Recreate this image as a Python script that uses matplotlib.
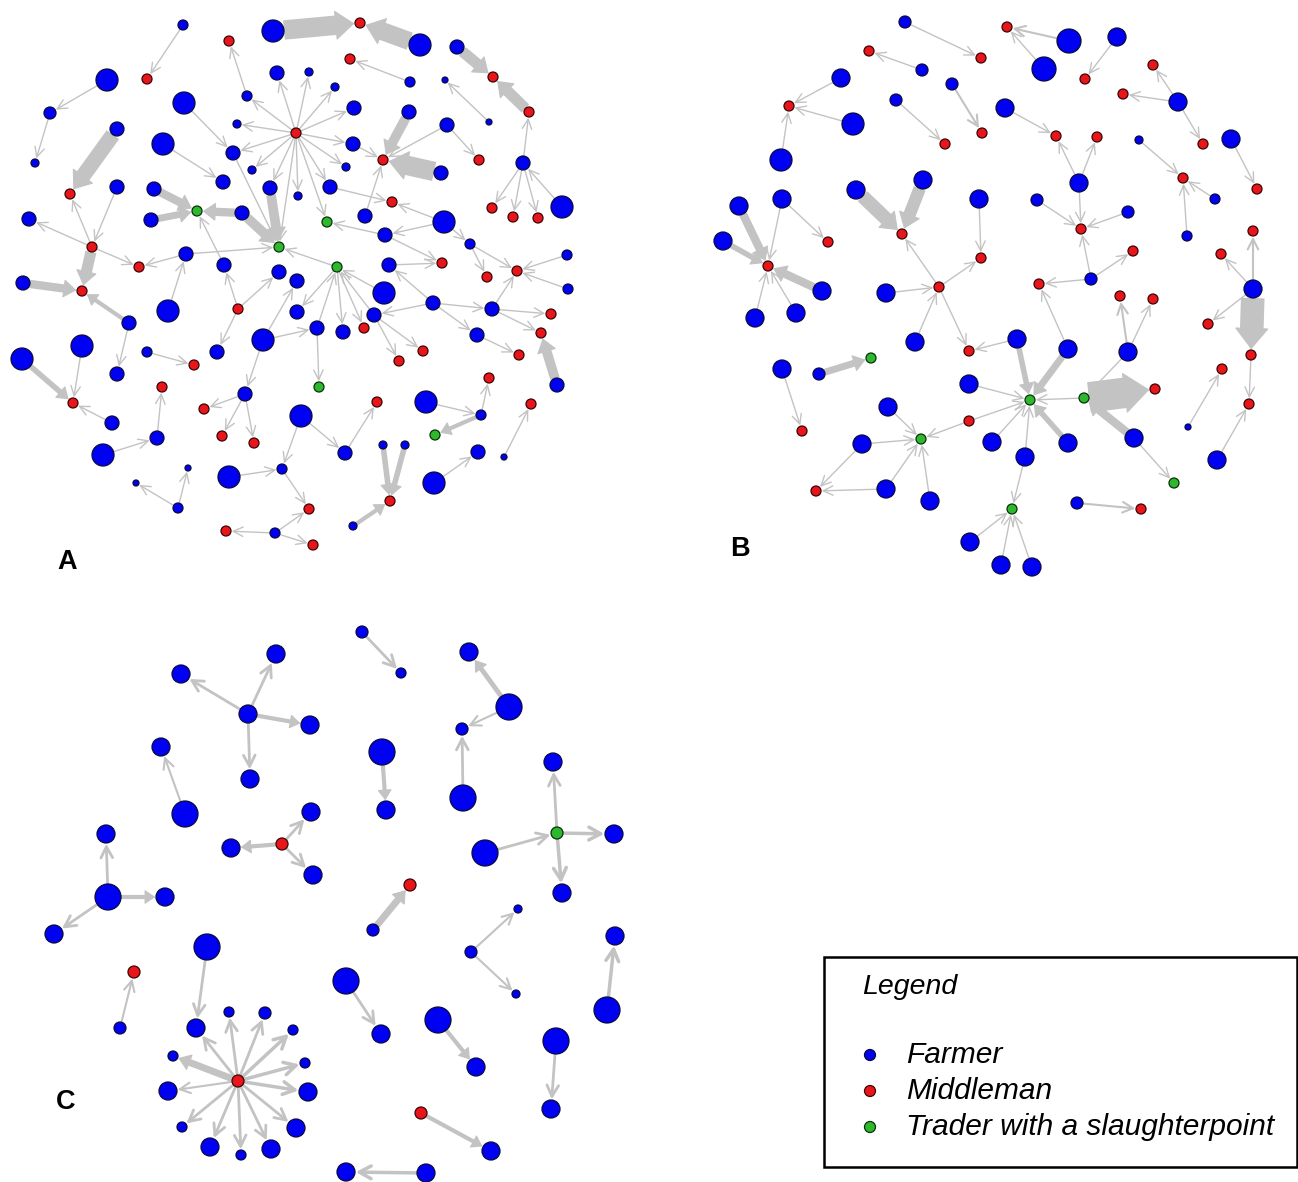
import matplotlib
matplotlib.use("Agg")
import matplotlib.pyplot as plt
from matplotlib.patches import Circle, FancyArrowPatch, Rectangle

# ---------------------------------------------------------------------------
# Node tables per panel: (x, y, radius, kind)  kind: F=farmer, M=middleman,
# T=trader with a slaughterpoint.  Links: (source index, target index, weight)
# ---------------------------------------------------------------------------
a_nodes = [
    (183, 25, 5, 'F'), (229, 41, 5, 'M'), (273, 31, 11, 'F'), (147, 79, 5, 'M'),
    (107, 80, 11, 'F'), (50, 113, 6, 'F'), (35, 163, 4, 'F'), (277, 73, 7, 'F'),
    (247, 96, 5, 'F'), (184, 103, 11, 'F'), (296, 133, 5, 'M'), (237, 124, 4, 'F'),
    (233, 153, 7, 'F'), (163, 144, 11, 'F'), (117, 129, 7, 'F'), (70, 194, 5, 'M'),
    (252, 170, 4, 'F'), (223, 182, 7, 'F'), (270, 188, 7, 'F'), (298, 196, 4, 'F'),
    (117, 187, 7, 'F'), (154, 189, 7, 'F'), (197, 211, 5, 'T'), (151, 220, 7, 'F'),
    (242, 213, 7, 'F'), (279, 247, 5, 'T'), (29, 219, 7, 'F'), (92, 247, 5, 'M'),
    (139, 267, 5, 'M'), (186, 254, 7, 'F'), (224, 265, 7, 'F'), (279, 272, 7, 'F'),
    (23, 283, 7, 'F'), (360, 23, 5, 'M'), (420, 45, 11, 'F'), (457, 47, 7, 'F'),
    (493, 77, 5, 'M'), (529, 112, 5, 'M'), (350, 59, 5, 'M'), (410, 82, 5, 'F'),
    (445, 80, 3, 'F'), (489, 122, 3, 'F'), (309, 72, 4, 'F'), (335, 87, 4, 'F'),
    (354, 108, 7, 'F'), (409, 112, 7, 'F'), (447, 125, 7, 'F'), (383, 160, 5, 'M'),
    (441, 173, 7, 'F'), (479, 160, 5, 'M'), (353, 144, 7, 'F'), (346, 167, 4, 'F'),
    (523, 163, 7, 'F'), (492, 208, 5, 'M'), (513, 217, 5, 'M'), (538, 218, 5, 'M'),
    (562, 207, 11, 'F'), (330, 187, 7, 'F'), (392, 202, 5, 'M'), (365, 216, 7, 'F'),
    (444, 222, 11, 'F'), (327, 222, 5, 'T'), (385, 235, 7, 'F'), (470, 244, 5, 'F'),
    (567, 255, 5, 'F'), (487, 277, 5, 'M'), (517, 271, 5, 'M'), (337, 267, 5, 'T'),
    (389, 265, 7, 'F'), (442, 263, 5, 'M'), (297, 281, 7, 'F'), (82, 291, 5, 'M'),
    (129, 323, 7, 'F'), (117, 374, 7, 'F'), (168, 311, 11, 'F'), (238, 309, 5, 'M'),
    (297, 312, 7, 'F'), (263, 340, 11, 'F'), (217, 352, 7, 'F'), (82, 346, 11, 'F'),
    (22, 359, 11, 'F'), (73, 403, 5, 'M'), (112, 423, 7, 'F'), (147, 352, 5, 'F'),
    (194, 365, 5, 'M'), (162, 387, 5, 'M'), (157, 438, 7, 'F'), (103, 455, 11, 'F'),
    (245, 394, 7, 'F'), (204, 409, 5, 'M'), (222, 436, 5, 'M'), (254, 443, 5, 'M'),
    (301, 416, 11, 'F'), (229, 477, 11, 'F'), (282, 469, 5, 'F'), (136, 483, 3, 'F'),
    (188, 468, 3, 'F'), (178, 508, 5, 'F'), (226, 531, 5, 'M'), (275, 533, 5, 'F'),
    (309, 509, 5, 'M'), (313, 545, 5, 'M'), (568, 289, 5, 'F'), (384, 293, 11, 'F'),
    (433, 303, 7, 'F'), (374, 315, 7, 'F'), (492, 309, 7, 'F'), (477, 335, 7, 'F'),
    (551, 314, 5, 'M'), (541, 333, 5, 'M'), (519, 355, 5, 'M'), (557, 385, 7, 'F'),
    (317, 328, 7, 'F'), (319, 387, 5, 'T'), (343, 332, 7, 'F'), (364, 328, 5, 'M'),
    (399, 361, 5, 'M'), (423, 351, 5, 'M'), (345, 453, 7, 'F'), (377, 402, 5, 'M'),
    (426, 402, 11, 'F'), (481, 415, 5, 'F'), (489, 378, 5, 'M'), (435, 435, 5, 'T'),
    (531, 404, 5, 'M'), (504, 457, 3, 'F'), (478, 452, 7, 'F'), (434, 483, 11, 'F'),
    (383, 445, 4, 'F'), (405, 445, 4, 'F'), (390, 501, 5, 'M'), (353, 526, 4, 'F'),
]
a_links = [
    (0, 3, 1), (4, 5, 1), (5, 6, 1), (8, 1, 1),
    (10, 11, 1), (10, 12, 1), (10, 16, 1), (10, 18, 1), (10, 7, 1), (10, 42, 1),
    (10, 43, 1), (10, 44, 1), (10, 50, 1), (10, 51, 1), (10, 57, 1), (10, 19, 1),
    (10, 25, 1), (10, 61, 1), (10, 8, 1),
    (9, 12, 1), (14, 15, 11), (13, 17, 1), (21, 22, 6), (23, 22, 5), (24, 22, 6),
    (18, 25, 7), (24, 25, 7), (12, 25, 1),
    (27, 26, 1), (27, 15, 1), (20, 27, 1), (27, 28, 1), (29, 28, 1), (29, 25, 1),
    (30, 22, 1),
    (2, 33, 14), (34, 33, 13), (35, 36, 8), (37, 36, 8), (39, 38, 1), (41, 40, 1),
    (45, 47, 7), (48, 47, 14), (46, 47, 1), (46, 49, 1), (50, 47, 1), (52, 37, 1),
    (52, 53, 1), (52, 54, 1), (52, 55, 1), (56, 52, 1),
    (57, 58, 1), (59, 47, 1), (60, 58, 1), (60, 62, 1), (62, 61, 1), (62, 69, 1),
    (60, 63, 1), (63, 66, 1), (64, 66, 1), (63, 65, 1), (68, 69, 1),
    (27, 71, 8), (32, 71, 6), (72, 71, 3), (72, 73, 1), (74, 29, 1), (75, 30, 1),
    (75, 31, 1), (75, 78, 1),
    (77, 70, 1), (77, 88, 1), (77, 112, 1), (80, 81, 4), (79, 81, 1), (82, 81, 1),
    (83, 84, 1), (86, 85, 1), (87, 86, 1),
    (88, 89, 1), (88, 90, 1), (88, 91, 1), (93, 94, 1), (97, 95, 1), (97, 96, 1),
    (99, 98, 1), (99, 100, 1), (99, 101, 1),
    (92, 118, 1), (92, 94, 1), (94, 100, 1), (118, 119, 1), (103, 67, 1),
    (104, 68, 1), (104, 105, 1), (104, 106, 1), (104, 107, 1), (106, 66, 1),
    (106, 108, 1), (106, 109, 1), (107, 110, 1), (111, 109, 7),
    (112, 113, 1), (112, 67, 1), (67, 76, 1), (67, 114, 1), (67, 115, 1),
    (105, 116, 1), (105, 117, 1), (105, 67, 1),
    (120, 121, 1), (121, 122, 1), (121, 123, 3), (125, 124, 1), (127, 126, 1),
    (128, 130, 4), (129, 130, 4), (131, 130, 3), (102, 66, 1), (67, 25, 1),
]

b_nodes = [
    (905, 22, 6, 'F'), (981, 58, 5, 'M'), (869, 51, 5, 'M'), (922, 70, 6, 'F'),
    (952, 84, 6, 'F'), (982, 133, 5, 'M'), (896, 100, 6, 'F'), (945, 144, 5, 'M'),
    (841, 78, 9, 'F'), (853, 124, 11, 'F'), (781, 160, 11, 'F'), (789, 106, 5, 'M'),
    (923, 180, 9, 'F'), (856, 190, 9, 'F'), (902, 234, 5, 'M'), (979, 199, 9, 'F'),
    (981, 258, 5, 'M'), (739, 206, 9, 'F'), (782, 199, 9, 'F'), (828, 242, 5, 'M'),
    (723, 241, 9, 'F'), (822, 291, 9, 'F'), (768, 266, 5, 'M'), (939, 287, 5, 'M'),
    (886, 293, 9, 'F'), (755, 318, 9, 'F'), (796, 313, 9, 'F'), (915, 342, 9, 'F'),
    (969, 351, 5, 'M'), (782, 369, 9, 'F'), (802, 431, 5, 'M'), (819, 374, 6, 'F'),
    (871, 358, 5, 'T'), (969, 384, 9, 'F'), (888, 407, 9, 'F'), (921, 439, 5, 'T'),
    (969, 421, 5, 'M'), (862, 444, 9, 'F'), (816, 491, 5, 'M'), (886, 489, 9, 'F'),
    (930, 501, 9, 'F'), (992, 442, 9, 'F'), (1017, 339, 9, 'F'), (1068, 349, 9, 'F'),
    (1030, 400, 5, 'T'), (1084, 398, 5, 'T'), (1155, 389, 5, 'M'), (1128, 352, 9, 'F'),
    (1120, 296, 5, 'M'), (1153, 299, 5, 'M'), (1134, 438, 9, 'F'), (1174, 483, 5, 'T'),
    (1068, 443, 9, 'F'), (1025, 457, 9, 'F'), (1012, 509, 5, 'T'), (970, 542, 9, 'F'),
    (1001, 565, 9, 'F'), (1032, 567, 9, 'F'), (1077, 503, 6, 'F'), (1141, 509, 5, 'M'),
    (1007, 27, 5, 'M'), (1069, 41, 12, 'F'), (1044, 69, 12, 'F'), (1117, 37, 9, 'F'),
    (1085, 79, 5, 'M'), (1005, 108, 9, 'F'), (1056, 136, 5, 'M'), (1097, 137, 5, 'M'),
    (1079, 183, 9, 'F'), (1037, 200, 6, 'F'), (1081, 229, 5, 'M'), (1128, 212, 6, 'F'),
    (1091, 279, 6, 'F'), (1039, 284, 5, 'M'), (1133, 251, 5, 'M'), (1153, 65, 5, 'M'),
    (1178, 102, 9, 'F'), (1123, 94, 5, 'M'), (1203, 144, 5, 'M'), (1139, 140, 4, 'F'),
    (1183, 178, 5, 'M'), (1215, 199, 5, 'F'), (1187, 236, 5, 'F'), (1231, 139, 9, 'F'),
    (1257, 189, 5, 'M'), (1253, 231, 5, 'M'), (1221, 254, 5, 'M'), (1253, 289, 9, 'F'),
    (1208, 324, 5, 'M'), (1251, 355, 5, 'M'), (1222, 369, 5, 'M'), (1188, 427, 3, 'F'),
    (1249, 404, 5, 'M'), (1217, 460, 9, 'F'),
]
b_links = [
    (0, 1, 1), (3, 2, 1), (4, 5, 1.5), (6, 7, 1), (8, 11, 1), (9, 11, 1), (10, 11, 1),
    (12, 14, 9), (13, 14, 10), (15, 16, 1), (17, 22, 6), (20, 22, 4), (21, 22, 6),
    (18, 22, 1), (18, 19, 1), (25, 22, 1), (26, 22, 1), (23, 14, 1), (23, 16, 1),
    (24, 23, 1), (27, 23, 1), (23, 28, 1), (42, 28, 1), (29, 30, 1), (31, 32, 5),
    (34, 35, 1), (36, 35, 1), (36, 44, 1), (37, 35, 1), (37, 38, 1), (39, 35, 1),
    (39, 38, 1), (40, 35, 1), (33, 44, 1), (42, 44, 4), (43, 44, 5), (43, 73, 1),
    (45, 44, 1), (45, 46, 22), (50, 45, 6), (47, 45, 1), (47, 48, 1.5), (47, 49, 1),
    (50, 51, 1), (41, 44, 1), (52, 44, 4), (53, 44, 1), (53, 54, 1), (55, 54, 1),
    (56, 54, 1), (57, 54, 1), (58, 59, 1.5),
    (61, 60, 1.5), (62, 60, 1), (63, 64, 1), (65, 66, 1), (68, 66, 1), (68, 67, 1),
    (68, 70, 1), (69, 70, 1), (71, 70, 1), (72, 70, 1), (72, 73, 1), (72, 74, 1),
    (76, 75, 1), (76, 77, 1), (76, 78, 1), (79, 80, 1), (81, 80, 1), (82, 80, 1),
    (83, 84, 1), (87, 85, 1.5), (87, 86, 1), (87, 89, 17), (87, 88, 1),
    (89, 92, 1), (91, 90, 1), (93, 92, 1),
]

c_nodes = [
    (181, 674, 9, 'F'), (276, 654, 9, 'F'), (248, 714, 9, 'F'), (310, 725, 9, 'F'),
    (250, 779, 9, 'F'), (161, 747, 9, 'F'), (185, 814, 13, 'F'), (106, 834, 9, 'F'),
    (108, 897, 13, 'F'), (165, 897, 9, 'F'), (54, 934, 9, 'F'), (231, 848, 9, 'F'),
    (282, 844, 6, 'M'), (311, 812, 9, 'F'), (313, 875, 9, 'F'), (362, 632, 6, 'F'),
    (401, 673, 5, 'F'), (469, 652, 9, 'F'), (509, 707, 13, 'F'), (462, 729, 6, 'F'),
    (382, 752, 13, 'F'), (386, 810, 9, 'F'), (463, 798, 13, 'F'), (553, 762, 9, 'F'),
    (557, 833, 6, 'T'), (614, 834, 9, 'F'), (562, 893, 9, 'F'), (485, 853, 13, 'F'),
    (410, 885, 6, 'M'), (373, 930, 6, 'F'), (207, 947, 13, 'F'), (196, 1028, 9, 'F'),
    (134, 972, 6, 'M'), (120, 1028, 6, 'F'), (238, 1081, 6, 'M'), (229, 1012, 5, 'F'),
    (265, 1013, 6, 'F'), (293, 1030, 5, 'F'), (305, 1063, 5, 'F'), (308, 1092, 9, 'F'),
    (296, 1128, 9, 'F'), (271, 1149, 9, 'F'), (241, 1155, 5, 'F'), (210, 1147, 9, 'F'),
    (182, 1127, 5, 'F'), (168, 1091, 9, 'F'), (173, 1056, 5, 'F'), (346, 981, 13, 'F'),
    (381, 1034, 9, 'F'), (438, 1020, 13, 'F'), (476, 1067, 9, 'F'), (471, 952, 6, 'F'),
    (518, 909, 4, 'F'), (516, 994, 4, 'F'), (615, 936, 9, 'F'), (607, 1010, 13, 'F'),
    (556, 1041, 13, 'F'), (551, 1109, 9, 'F'), (421, 1113, 6, 'M'), (491, 1151, 9, 'F'),
    (426, 1173, 9, 'F'), (346, 1172, 9, 'F'),
]
c_links = [
    (2, 0, 2), (2, 1, 2), (2, 3, 3), (2, 4, 2), (6, 5, 1.5), (8, 7, 2), (8, 9, 3),
    (8, 10, 2), (12, 11, 3), (12, 13, 2), (12, 14, 2), (15, 16, 2), (18, 17, 3.5),
    (18, 19, 1.5), (20, 21, 3), (22, 19, 2), (27, 24, 2), (24, 23, 2), (24, 25, 2.5),
    (24, 26, 2.5), (29, 28, 5), (30, 31, 2), (33, 32, 1.5),
    (34, 35, 2), (34, 36, 2), (34, 37, 2.5), (34, 38, 2.5), (34, 39, 2.5),
    (34, 40, 2), (34, 41, 2), (34, 42, 2), (34, 43, 2), (34, 44, 2), (34, 45, 1.5),
    (34, 46, 5), (34, 31, 2),
    (47, 48, 2), (49, 50, 3), (51, 52, 1.5), (51, 53, 1.5), (55, 54, 2.5),
    (56, 57, 2), (58, 59, 3), (60, 61, 2.5),
]

panel_labels = ["A", "B", "C"]
panel_label_pos = [(67, 562), (740, 549), (66, 1102)]

legend_title = "Legend"
legend_kinds = ["F", "M", "T"]
legend_texts = ["Farmer", "Middleman", "Trader with a slaughterpoint"]

kind_face = {"F": "#0000F2", "M": "#E8161B", "T": "#2DB82D"}
kind_edge = {"F": "#0A0A40", "M": "#3A0505", "T": "#0B300B"}
link_color = "#C3C3C3"

W, H = 1298, 1182
DPI = 100
fig = plt.figure(figsize=(W / DPI, H / DPI), dpi=DPI)
ax = fig.add_axes([0, 0, 1, 1])
ax.set_xlim(0, W)
ax.set_ylim(H, 0)
ax.axis("off")

PT = 72.0 / DPI  # points per pixel


def draw_link(p0, p1, r0, r1, w):
    """Weighted directed link: open chevron for light links, a band ending in
    a solid head for heavy ones."""
    sA = r0 * PT
    sB = r1 * PT + 0.5
    if w < 3:
        hl, hw = 6.0 + w, 2.6 + 0.8 * w
        ax.add_patch(FancyArrowPatch(
            p0, p1, arrowstyle=f"->,head_length={hl},head_width={hw}",
            mutation_scale=1, lw=w, color=link_color,
            shrinkA=sA, shrinkB=sB, zorder=1))
    else:
        hl = 5.0 + 0.55 * w
        hw = 0.5 * w + 3.0
        ax.add_patch(FancyArrowPatch(
            p0, p1, arrowstyle="-", lw=w, color=link_color,
            shrinkA=sA, shrinkB=sB + 0.8 * hl, capstyle="butt", zorder=1))
        ax.add_patch(FancyArrowPatch(
            p0, p1, arrowstyle=f"-|>,head_length={hl},head_width={hw}",
            mutation_scale=1, lw=0.8, color=link_color,
            shrinkA=sA, shrinkB=sB, zorder=1))


def draw_network(nodes, links):
    for s, t, w in links:
        xs, ys, rs, _ = nodes[s]
        xt, yt, rt, _ = nodes[t]
        draw_link((xs, ys), (xt, yt), rs, rt, w)
    for x, y, r, k in nodes:
        ax.add_patch(Circle((x, y), r, facecolor=kind_face[k],
                            edgecolor=kind_edge[k], lw=0.9, zorder=3))


draw_network(a_nodes, a_links)
draw_network(b_nodes, b_links)
draw_network(c_nodes, c_links)

for lab, (x, y) in zip(panel_labels, panel_label_pos):
    ax.text(x, y, lab, fontsize=19.5, fontweight="bold",
            family="Liberation Sans", ha="center", va="center", zorder=5)

# legend box
ax.add_patch(Rectangle((824, 957), 473, 210, facecolor="white",
                       edgecolor="black", lw=1.8, zorder=4))
ax.text(862, 987, legend_title, fontsize=20.5, style="italic",
        family="Liberation Sans", ha="left", va="center", zorder=5)
for i, (k, txt) in enumerate(zip(legend_kinds, legend_texts)):
    y = 1055 + 36 * i
    ax.add_patch(Circle((870, y), 5.5, facecolor=kind_face[k],
                        edgecolor=kind_edge[k], lw=0.9, zorder=5))
    ax.text(906, y, txt, fontsize=21.5, style="italic",
            family="Liberation Sans", ha="left", va="center", zorder=5)

fig.savefig("out.png", dpi=DPI)
